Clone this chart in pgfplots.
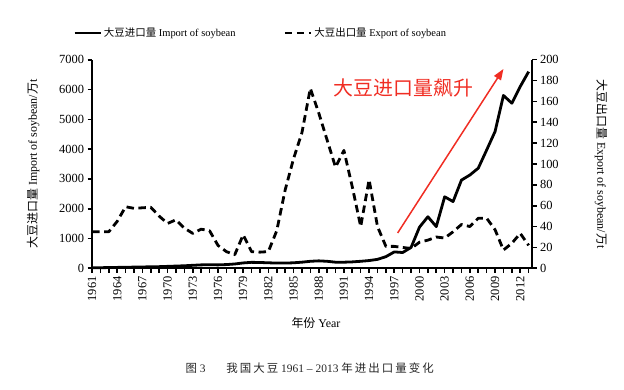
\documentclass[border=0pt]{standalone}
\usepackage{fontspec}
\setmainfont{Liberation Serif}
\newfontfamily\cjk{Noto Sans CJK SC}
\newfontfamily\cjkspaced[LetterSpace=18]{Noto Sans CJK SC}
\usepackage{pgfplots}
\usepackage{pgfplotstable}
\pgfplotsset{compat=1.18}
\usetikzlibrary{arrows.meta}
\definecolor{redarrow}{RGB}{240,45,35}

\pgfplotstableread{
year imp
1961 20
1962 20
1963 25
1964 30
1965 35
1966 40
1967 45
1968 50
1969 55
1970 65
1971 75
1972 85
1973 100
1974 115
1975 120
1976 115
1977 125
1978 145
1979 180
1980 200
1981 195
1982 185
1983 175
1984 175
1985 185
1986 205
1987 235
1988 250
1989 235
1990 205
1991 205
1992 215
1993 235
1994 260
1995 300
1996 390
1997 550
1998 530
1999 700
2000 1380
2001 1730
2002 1400
2003 2400
2004 2240
2005 2960
2006 3130
2007 3360
2008 3970
2009 4590
2010 5800
2011 5540
2012 6100
2013 6600
}\importdata

\pgfplotstableread{
year exp
1961 35
1962 35
1963 35
1964 45
1965 59
1966 57.5
1967 58
1968 58.5
1969 50
1970 43
1971 46.5
1972 38.5
1973 33.5
1974 37.5
1975 36
1976 22
1977 16
1978 13
1979 32
1980 16
1981 15.5
1982 16
1983 36
1984 75
1985 105
1986 130
1987 172.5
1988 149
1989 123
1990 97
1991 113
1992 78
1993 40
1994 85
1995 40
1996 21
1997 21
1998 20
1999 19
2000 25
2001 27
2002 30
2003 29
2004 35
2005 42
2006 40
2007 48
2008 48
2009 37
2010 17.5
2011 24
2012 33.5
2013 22
}\exportdata

\begin{document}
\begin{tikzpicture}
\useasboundingbox (0,0) rectangle (624bp,390bp);
\pgfplotsset{
  common/.style={
    at={(92bp,121.7bp)}, anchor=south west,
    scale only axis, width=440bp, height=208.6bp,
    xmin=1961, xmax=2013.4, ymin=0,
    tick align=outside, major tick length=4.5bp, minor tick length=4.5bp,
    tick style={line width=1.6bp, black},
    axis line style={line width=2.1bp, -},
    /pgf/number format/assume math mode=true,
    /pgf/number format/set thousands separator={},
    tick label style={font=\fontsize{12.5}{14}\selectfont},
    clip=false,
  },
  impstyle/.style={black, line width=2.8bp, line join=round},
  expstyle/.style={black, line width=2.8bp, dash pattern=on 7.5bp off 4.5bp, line join=round},
}
\begin{axis}[common, ymax=7000,
  axis x line*=bottom, axis y line*=left,
  ytick={0,1000,...,7000},
  xtick={1961,1964,...,2012}, minor xtick={1961,...,2013},
  xticklabel style={rotate=90, anchor=east},
  xticklabel={\pgfmathprintnumber[fixed,precision=0,set thousands separator={}]{\tick}},
  xlabel={{\cjk 年份} Year},
  xlabel style={at={(axis description cs:0.509,-0.262)}, anchor=center, font=\fontsize{12}{14}\selectfont},
  ylabel={{\cjk 大豆进口量} Import of soybean/{\cjk 万}t},
  ylabel style={at={(axis description cs:-0.134,0.5)}, anchor=center, font=\fontsize{12}{14}\selectfont},
  legend style={draw=none, fill=none, at={(axis description cs:-0.05,1.128)}, anchor=west,
    legend columns=2, font=\fontsize{10.5}{12}\selectfont,
    /tikz/every even column/.append style={column sep=46bp}},
  legend image code/.code={\draw[#1] (0bp,0bp) -- (26bp,0bp);},
]
\addplot[impstyle] table[x=year, y=imp] {\importdata};
\addlegendentry{{\cjk 大豆进口量} Import of soybean}
\addlegendimage{expstyle}
\addlegendentry{{\cjk 大豆出口量} Export of soybean}
\draw[redarrow, line width=1.5bp, -{Triangle[length=11bp, width=8bp]}] (axis cs:1997.4,1185) -- (axis cs:2010.0,6690);
\node[text=redarrow, font=\cjk\fontsize{20}{22}\selectfont] at (axis cs:1998.1,6050) {大豆进口量飙升};
\node[font=\fontsize{11.5}{13}\selectfont, text=black!85] at (axis description cs:0.495,-0.478) {{\cjkspaced 图} 3\hspace{1.8em}{\cjkspaced 我国大豆} 1961 – 2013 {\cjkspaced 年进出口量变化}};
\end{axis}
\begin{axis}[common, ymax=200,
  axis x line=none, axis y line*=right,
  ytick={0,20,...,200},
  ylabel={{\cjk 大豆出口量} Export of soybean/{\cjk 万}t},
  ylabel style={at={(axis description cs:1.157,0.5)}, anchor=center, rotate=180, font=\fontsize{12}{14}\selectfont},
]
\addplot[expstyle] table[x=year, y=exp] {\exportdata};
\end{axis}
\end{tikzpicture}
\end{document}
